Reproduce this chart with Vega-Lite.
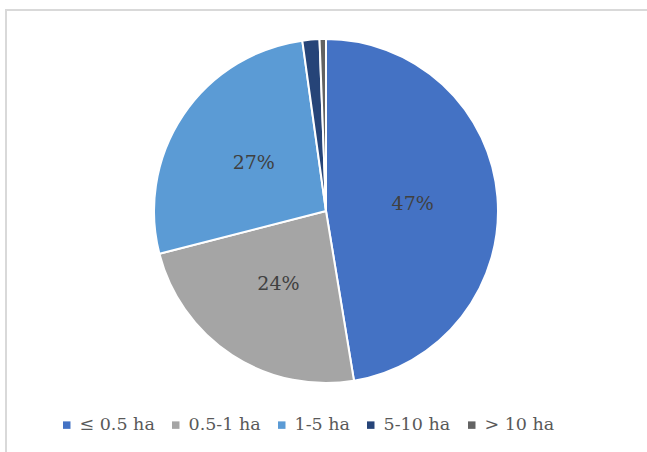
{
  "$schema": "https://vega.github.io/schema/vega-lite/v6.json",
  "width": 660,
  "height": 460,
  "padding": {"left": 6, "top": 10, "right": 0, "bottom": 0},
  "autosize": {"type": "none"},
  "background": "white",
  "config": {"view": {"stroke": null}},
  "data": {
    "values": [
      {"category": "≤ 0.5 ha", "value": 47.4, "label": "47%", "order": 1},
      {"category": "0.5-1 ha", "value": 23.6, "label": "24%", "order": 2},
      {"category": "1-5 ha", "value": 26.8, "label": "27%", "order": 3},
      {"category": "5-10 ha", "value": 1.6, "label": "", "order": 4},
      {"category": "> 10 ha", "value": 0.6, "label": "", "order": 5}
    ]
  },
  "layer": [
    {
      "data": {"values": [{"frame": 1}]},
      "mark": {"type": "rect", "fill": null, "stroke": "#d9d9d9", "strokeWidth": 2},
      "encoding": {}
    },
    {
      "mark": {"type": "arc", "radius": 172, "stroke": "white", "strokeWidth": 2, "x": {"expr": "width/2-10"}, "y": {"expr": "height/2-29"}},
      "encoding": {
        "theta": {"field": "value", "type": "quantitative", "stack": true},
        "order": {"field": "order", "type": "quantitative"},
        "color": {
          "field": "category",
          "type": "nominal",
          "scale": {
            "domain": ["≤ 0.5 ha", "0.5-1 ha", "1-5 ha", "5-10 ha", "> 10 ha"],
            "range": ["#4472C4", "#A5A5A5", "#5B9BD5", "#264478", "#636363"]
          },
          "legend": {
            "orient": "none",
            "legendX": 52,
            "legendY": 406,
            "direction": "horizontal",
            "title": null,
            "symbolType": "square",
            "symbolSize": 56,
            "symbolStrokeWidth": 0,
            "labelFont": "DejaVu Serif",
            "labelFontSize": 17.5,
            "labelColor": "#595959",
            "labelOffset": 4,
            "columnPadding": 12,
            "labelLimit": 300
          }
        }
      }
    },
    {
      "mark": {"type": "text", "radius": 87, "font": "DejaVu Serif", "fontSize": 19, "x": {"expr": "width/2-10"}, "y": {"expr": "height/2-29"}},
      "encoding": {
        "theta": {"field": "value", "type": "quantitative", "stack": true},
        "order": {"field": "order", "type": "quantitative"},
        "text": {"field": "label"},
        "color": {"value": "#404040"}
      }
    }
  ]
}
